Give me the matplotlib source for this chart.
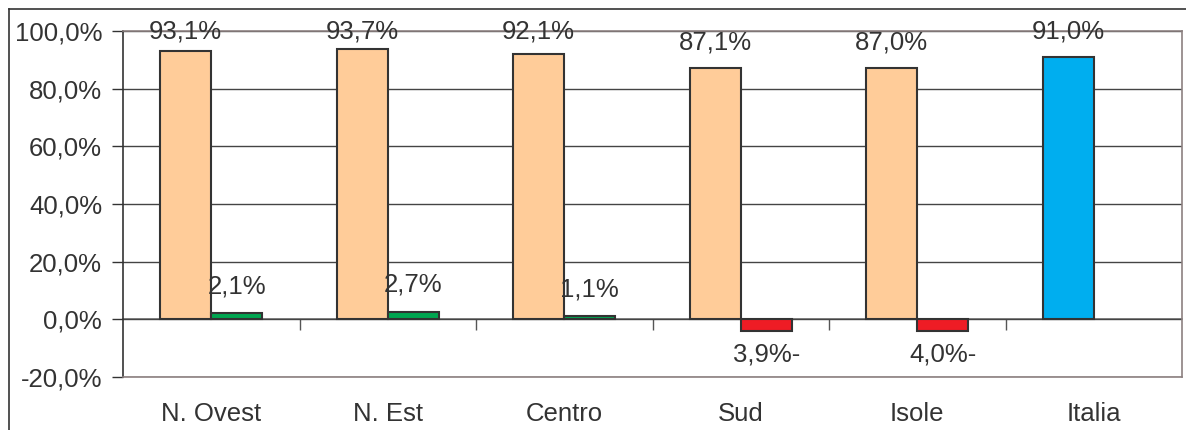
import numpy as np
import matplotlib
matplotlib.use('Agg')
from matplotlib import pyplot as plt
from matplotlib.lines import Line2D

plt.rcParams['font.family'] = ['Liberation Sans', 'DejaVu Sans']

# regions and the two series (share of total, change)
regions = ['N. Ovest', 'N. Est', 'Centro', 'Sud', 'Isole', 'Italia']
share = [93.1, 93.7, 92.1, 87.1, 87.0, 91.0]
change = [2.1, 2.7, 1.1, -3.9, -4.0]
share_labels = ['93,1%', '93,7%', '92,1%', '87,1%', '87,0%', '91,0%']
change_labels = ['2,1%', '2,7%', '1,1%', '3,9%-', '4,0%-']
yticks = [-20, 0, 20, 40, 60, 80, 100]
ytick_labels = ['-20,0%', '0,0%', '20,0%', '40,0%', '60,0%', '80,0%', '100,0%']

orange = '#FFCC99'
blue = '#00AEEF'
green = '#00A651'
red = '#EE1C25'
edge = '#333333'
txt = '#333333'
fs = 18.5

fig = plt.figure(figsize=(11.86, 4.30), dpi=100)
ax = fig.add_axes([123 / 1186, 53 / 430, 1059 / 1186, 346 / 430])

x = np.arange(len(regions))
w = 0.29
share_colors = [orange] * 5 + [blue]
ax.bar(x - w / 2, share, w, color=share_colors, edgecolor=edge, linewidth=1.5, zorder=3)
change_colors = [green if v >= 0 else red for v in change]
ax.bar(x[:5] + w / 2, change, w, color=change_colors, edgecolor=edge, linewidth=1.5, zorder=3)

# labels of the tallest bars are held down so they stay inside the frame
for xi, v, t in zip(x, share, share_labels):
    ax.annotate(t, (xi - w / 2, min(v, 91.0)), xytext=(0, 18.5), textcoords='offset points',
                ha='center', va='center', fontsize=fs, color=txt, zorder=5)
for xi, v, t in zip(x[:5], change, change_labels):
    dy = 19.5 if v >= 0 else -17
    ax.annotate(t, (xi + w / 2, v), xytext=(0, dy), textcoords='offset points',
                ha='center', va='center', fontsize=fs, color=txt, zorder=5)

ax.set_xlim(-0.5, len(regions) - 0.5)
ax.set_ylim(-20, 100)
ax.set_yticks(yticks)
ax.set_yticklabels(ytick_labels, fontsize=fs, color=txt)
ax.tick_params(axis='y', direction='out', length=8, width=1, color='#333333', pad=7)
ax.set_xticks(x)
ax.set_xticklabels(regions, fontsize=fs, color=txt)
ax.tick_params(axis='x', length=0, pad=18)

ax.grid(axis='y', color='#444444', linewidth=1, zorder=0)
ax.set_axisbelow(True)
for side in ['top', 'right', 'bottom']:
    ax.spines[side].set_color('#8c8080')
    ax.spines[side].set_linewidth(1.2)
ax.spines['left'].set_color('#333333')
ax.spines['left'].set_linewidth(1.2)

# category axis crossing at zero, with tick marks between groups
zero_pos = (0 - (-20)) / 120
sec = ax.secondary_xaxis(zero_pos)
sec.set_xticks(np.arange(0.5, len(regions) - 0.5, 1.0))
sec.set_xticklabels([])
sec.tick_params(axis='x', direction='out', length=8, width=1, color='#555555')
sec.spines['bottom'].set_color('#777777')
sec.spines['bottom'].set_linewidth(1.2)

# outer chart frame
fig.add_artist(Line2D([9 / 1186, 9 / 1186], [-0.1, 1 - 9 / 430], color='#333333', lw=1.2))
fig.add_artist(Line2D([9 / 1186, 1.1], [1 - 9 / 430, 1 - 9 / 430], color='#333333', lw=1.2))

fig.savefig('out.png', dpi=100)
